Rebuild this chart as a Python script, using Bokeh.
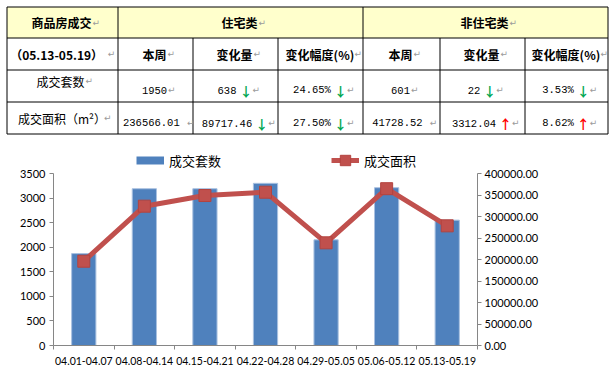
from bokeh.plotting import figure
from bokeh.models import (Range1d, LinearAxis, FixedTicker, NumeralTickFormatter,
                          Legend, LegendItem, ColumnDataSource)
from bokeh.layouts import column
from bokeh.embed import file_html
from bokeh.resources import INLINE
from bokeh.core.properties import value

# ---------------- data ----------------
weeks = ["04.01-04.07", "04.08-04.14", "04.15-04.21", "04.22-04.28",
         "04.29-05.05", "05.06-05.12", "05.13-05.19"]
units = [1870, 3190, 3190, 3300, 2150, 3211, 2551]            # 成交套数 (left axis)
area = [196000, 324000, 348800, 356500, 238800, 364700, 278295]  # 成交面积 (right axis)
left_ticks = [0, 500, 1000, 1500, 2000, 2500, 3000, 3500]
right_ticks = [0, 50000, 100000, 150000, 200000, 250000, 300000, 350000, 400000]
series_names = ["成交套数", "成交面积"]

table_title = ["商品房成交", "住宅类", "非住宅类"]
table_header = ["（05.13-05.19）", "本周", "变化量", "变化幅度(%)", "本周", "变化量", "变化幅度(%)"]
row_labels = ["成交套数", "成交面积（m²）"]
row_values = [["1950", "638", "24.65%", "601", "22", "3.53%"],
              ["236566.01 ", "89717.46", "27.50%", "41728.52 ", "3312.04", "8.62%"]]
row_dirs = [[None, "down", "down", None, "down", "down"],
            [None, "down", "down", None, "up", "up"]]

# ---------------- table ----------------
W = 611
TH = 136
col_w = [111, 75, 85, 85, 77, 85, 83]
row_h = [31, 32, 32, 32]
cx = [6.5]
for w in col_w:
    cx.append(cx[-1] + w)
ry = [6.5]
for h in row_h:
    ry.append(ry[-1] + h)

t = figure(width=W, height=TH, x_range=Range1d(0, W), y_range=Range1d(TH, 0),
           output_backend="svg", toolbar_location=None, x_axis_type=None, y_axis_type=None,
           min_border=0, frame_align=False)
t.xgrid.visible = False
t.ygrid.visible = False
t.outline_line_color = None

t.quad(left=[cx[0]], right=[cx[-1]], top=[ry[0]], bottom=[ry[1]],
       fill_color="#FFFFCC", line_color=None)

x0s, y0s, x1s, y1s = [], [], [], []
for y in ry:
    x0s.append(cx[0]); x1s.append(cx[-1]); y0s.append(y); y1s.append(y)
for i, x in enumerate(cx):
    top = ry[0] if i in (0, 1, 4, 7) else ry[1]
    x0s.append(x); x1s.append(x); y0s.append(top); y1s.append(ry[-1])
t.segment(x0=x0s, y0=y0s, x1=x1s, y1=y1s, line_color="#000000", line_width=1)


def tw(s, size, ratio):
    return sum(size if ord(ch) > 0x2E7F else size * ratio for ch in s)


MARK_W = 7
bold_x, bold_y, bold_t = [], [], []
norm_x, norm_y, norm_t = [], [], []
mark_x, mark_y = [], []
num_x, num_y, num_t = [], [], []
arr_x, arr_y, arr_t, arr_c = [], [], [], []


def header_cell(txt, xl, xr, y, bold=True, dx=3):
    w = tw(txt, 12, 0.55)
    start = (xl + xr) / 2 - (w + 1 + MARK_W) / 2 + dx
    if bold:
        bold_x.append(start); bold_y.append(y); bold_t.append(txt)
    else:
        norm_x.append(start); norm_y.append(y); norm_t.append(txt)
    mark_x.append(start + w + 1); mark_y.append(y)


y1c = (ry[0] + ry[1]) / 2
header_cell(table_title[0], cx[0], cx[1], y1c)
header_cell(table_title[1], cx[1], cx[4], y1c)
header_cell(table_title[2], cx[4], cx[7], y1c)
y2c = (ry[1] + ry[2]) / 2
for j, txt in enumerate(table_header):
    header_cell(txt, cx[j], cx[j + 1], y2c, dx=(0 if j == 0 else 3))
label_dy = [-5, 0]
data_dy = [4, 5]
CW = 6.3
for r in range(2):
    yc = (ry[r + 2] + ry[r + 3]) / 2
    header_cell(row_labels[r], cx[0], cx[1], yc + label_dy[r], bold=False, dx=2)
    yd = yc + data_dy[r]
    for j, txt in enumerate(row_values[r]):
        xl, xr = cx[j + 1], cx[j + 2]
        w = len(txt) * CW
        d = row_dirs[r][j]
        if d:
            total = w + 3 + 7 + 6 + MARK_W
        else:
            total = w + 1 + MARK_W
        start = (xl + xr) / 2 - total / 2 + 3
        num_x.append(start); num_y.append(yd); num_t.append(txt)
        if d:
            arr_x.append(start + w + 3); arr_y.append(yd)
            arr_t.append("↓" if d == "down" else "↑")
            arr_c.append("#00A651" if d == "down" else "#FF0000")
            mark_x.append(start + w + 3 + 7 + 6); mark_y.append(yd)
        else:
            mark_x.append(start + w + 1); mark_y.append(yd)

t.text(x=bold_x, y=bold_y, text=bold_t, text_align="left", text_baseline="middle",
       text_font=value("Noto Sans CJK SC"), text_font_size="12px", text_font_style="bold",
       text_color="#000000")
t.text(x=norm_x, y=norm_y, text=norm_t, text_align="left", text_baseline="middle",
       text_font=value("Noto Sans CJK SC"), text_font_size="12px", text_color="#000000")
t.text(x=num_x, y=num_y, text=num_t, text_align="left", text_baseline="middle",
       text_font=value("Liberation Mono"), text_font_size="10.5px", text_color="#000000")
t.text(x="x", y="y", text="t", text_color="c",
       source=ColumnDataSource(dict(x=arr_x, y=arr_y, t=arr_t, c=arr_c)),
       text_align="left", text_baseline="middle",
       text_font=value("Noto Sans CJK SC"), text_font_size="13px", text_font_style="bold")
t.text(x=mark_x, y=mark_y, text=["↵"] * len(mark_x), text_align="left", text_baseline="middle",
       text_font=value("DejaVu Sans"), text_font_size="9px", text_color="#9A9A9A")

# ---------------- chart ----------------
CH = 235
TOP_PAD = 11          # figure top -> frame top (legend strip lives inside the frame)
LEG_H = 26            # legend strip height, above the value axes' top
AXIS_PX = 172         # pixel length of the value axes
scale_top = (AXIS_PX + LEG_H) / AXIS_PX
xs = [i + 0.5 for i in range(len(weeks))]
src = ColumnDataSource(dict(x=xs, units=units, area=area))

c = figure(width=W, height=CH, x_range=Range1d(0, len(weeks)),
           y_range=Range1d(0, left_ticks[-1] * scale_top),
           output_backend="svg", toolbar_location=None, frame_align=False,
           min_border_left=53, min_border_right=134, min_border_top=TOP_PAD,
           min_border_bottom=CH - TOP_PAD - AXIS_PX - LEG_H)
c.extra_y_ranges = {"area": Range1d(0, right_ticks[-1] * scale_top)}
c.xgrid.visible = False
c.ygrid.visible = False
c.outline_line_color = None

bars = c.vbar(x="x", top="units", width=0.4, source=src,
              fill_color="#4F81BD", line_color="#A9C1E0", line_width=1)
line = c.line("x", "area", source=src, y_range_name="area", line_width=5, line_color="#C0504D")
pts = c.scatter("x", "area", source=src, y_range_name="area", marker="square", size=12,
                fill_color="#C0504D", line_color="#B3433F")
# legend swatch for the bar series: a thick blue key line with a single empty (NaN) point
bar_key = c.line(x=[xs[0]], y=[float("nan")], line_width=8, line_color="#4F81BD",
                 line_cap="butt")

AX = "#868686"
FONT = "Lato"

xa = c.xaxis[0]
xa.ticker = FixedTicker(ticks=xs, minor_ticks=list(range(len(weeks) + 1)))
xa.major_label_overrides = {xv: wk for xv, wk in zip(xs, weeks)}
xa.major_tick_line_color = None
xa.minor_tick_line_color = AX
xa.minor_tick_out = 4
xa.minor_tick_in = 0
xa.axis_line_color = AX
xa.major_label_standoff = 5
xa.major_label_text_font = FONT
xa.major_label_text_font_size = "10.5px"
xa.major_label_text_color = "#000000"

ya = c.yaxis[0]
ya.ticker = FixedTicker(ticks=left_ticks)
ya.bounds = (left_ticks[0], left_ticks[-1])
ya.minor_tick_line_color = None
ya.major_tick_out = 4
ya.major_tick_in = 0
ya.major_tick_line_color = AX
ya.axis_line_color = AX
ya.major_label_standoff = 4
ya.major_label_text_font = FONT
ya.major_label_text_font_size = "11px"
ya.major_label_text_color = "#000000"

ra = LinearAxis(y_range_name="area", ticker=FixedTicker(ticks=right_ticks),
                formatter=NumeralTickFormatter(format="0.00"),
                bounds=(right_ticks[0], right_ticks[-1]))
ra.minor_tick_line_color = None
ra.major_tick_out = 4
ra.major_tick_in = 0
ra.major_tick_line_color = AX
ra.axis_line_color = AX
ra.major_label_standoff = 3
ra.major_label_text_font = FONT
ra.major_label_text_font_size = "11px"
ra.major_label_text_color = "#000000"
c.add_layout(ra, "right")

leg = Legend(items=[LegendItem(label=series_names[0], renderers=[bar_key]),
                    LegendItem(label=series_names[1], renderers=[line, pts])],
             location=(83, AXIS_PX), orientation="horizontal",
             glyph_width=28, glyph_height=LEG_H, label_height=LEG_H, label_standoff=5,
             spacing=110, padding=0, margin=0, border_line_color=None,
             background_fill_alpha=0,
             label_text_font="Noto Sans CJK SC", label_text_font_size="13px",
             label_text_color="#000000")
c.add_layout(leg)

layout = column(t, c, spacing=0)
open("out.html", "w").write(file_html(layout, INLINE))
